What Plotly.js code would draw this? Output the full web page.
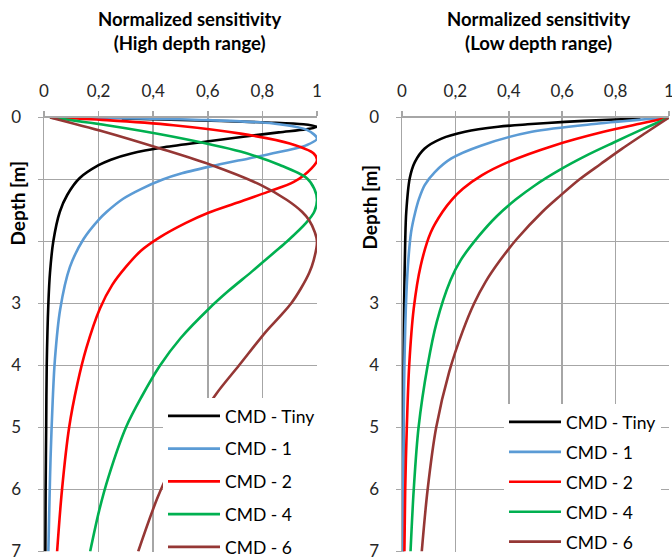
<!DOCTYPE html>
<html>
<head>
<meta charset="utf-8">
<script src="https://cdn.plot.ly/plotly-3.0.1.min.js"></script>
<style>html,body{margin:0;padding:0;background:#fff;}#chart{width:672px;height:558px;}</style>
</head>
<body>
<div id="chart"></div>
<script>
// ---------- data (depth in m, normalized sensitivity) ----------
const seriesNames = ["CMD - Tiny", "CMD - 1", "CMD - 2", "CMD - 4", "CMD - 6"];
const seriesColors = ["#000000", "#5B9BD5", "#FF0000", "#00B050", "#953735"];

// High depth range (left panel)
const highTinyDepth = [0.016, 0.04, 0.08, 0.11, 0.15, 0.19, 0.24, 0.31, 0.38, 0.48, 0.58, 0.68, 0.77, 0.98, 1.25, 1.52, 2.0, 2.5, 3.0, 4.0, 5.0, 6.0, 7.0];
const highTinySens  = [0.285, 0.5, 0.82, 0.95, 1.0, 0.96, 0.86, 0.73, 0.61, 0.44, 0.32, 0.245, 0.2, 0.13, 0.085, 0.058, 0.034, 0.022, 0.016, 0.01, 0.008, 0.006, 0.005];

const high1Depth = [0, 0.016, 0.043, 0.097, 0.2, 0.34, 0.45, 0.55, 0.66, 0.77, 0.9, 1.0, 1.15, 1.31, 1.52, 1.65, 1.96, 2.41, 3.1, 3.9, 4.55, 5.5, 6.2, 7.0];
const high1Sens  = [0.022, 0.35, 0.6, 0.84, 0.963, 1.0, 0.96, 0.87, 0.75, 0.63, 0.505, 0.435, 0.357, 0.29, 0.23, 0.2, 0.145, 0.095, 0.059, 0.04, 0.032, 0.024, 0.02, 0.016];

const high2Depth = [0, 0.043, 0.124, 0.26, 0.42, 0.58, 0.69, 0.82, 1.04, 1.2, 1.37, 1.54, 1.7, 1.93, 2.15, 2.41, 2.7, 3.08, 3.72, 4.3, 5.0, 6.0, 7.0];
const high2Sens  = [0.022, 0.23, 0.474, 0.72, 0.9, 0.988, 1.0, 0.98, 0.915, 0.82, 0.71, 0.6, 0.52, 0.425, 0.355, 0.3, 0.25, 0.205, 0.155, 0.122, 0.092, 0.066, 0.048];

const high4Depth = [0, 0.124, 0.31, 0.55, 0.77, 0.98, 1.15, 1.33, 1.52, 1.7, 2.0, 2.17, 2.49, 2.8, 3.08, 3.56, 4.0, 4.5, 5.0, 5.8, 6.34, 7.0];
const high4Sens  = [0.022, 0.23, 0.474, 0.72, 0.866, 0.963, 0.99, 1.0, 0.99, 0.96, 0.89, 0.845, 0.76, 0.675, 0.605, 0.5, 0.425, 0.358, 0.3, 0.236, 0.202, 0.169];

const high6Depth = [0, 0.23, 0.5, 0.77, 1.09, 1.33, 1.52, 1.65, 1.85, 2.0, 2.3, 2.5, 2.75, 3.0, 3.2, 3.45, 4.0, 4.45, 5.0, 5.5, 6.13, 7.0];
const high6Sens  = [0.022, 0.22, 0.425, 0.615, 0.795, 0.89, 0.945, 0.97, 0.992, 1.0, 0.988, 0.972, 0.942, 0.905, 0.866, 0.814, 0.714, 0.632, 0.55, 0.482, 0.416, 0.345];

// Low depth range (right panel)
const lowTinyDepth = [0.016, 0.04, 0.07, 0.11, 0.15, 0.23, 0.34, 0.5, 0.72, 0.98, 1.52, 2.0, 3.0, 4.0, 5.0, 6.0, 7.0];
const lowTinySens  = [0.893, 0.75, 0.61, 0.47, 0.36, 0.236, 0.148, 0.085, 0.048, 0.029, 0.016, 0.012, 0.008, 0.006, 0.005, 0.004, 0.004];

const low1Depth = [0, 0.097, 0.23, 0.45, 0.66, 0.88, 1.09, 1.32, 1.52, 1.85, 2.4, 3.0, 4.0, 5.0, 6.0, 7.0];
const low1Sens  = [0.994, 0.737, 0.486, 0.298, 0.185, 0.123, 0.085, 0.063, 0.05, 0.034, 0.022, 0.015, 0.009, 0.006, 0.004, 0.003];

const low2Depth = [0, 0.1, 0.23, 0.45, 0.72, 0.93, 1.15, 1.32, 1.52, 1.85, 2.39, 3.08, 4.0, 5.0, 6.0, 7.0];
const low2Sens  = [1.0, 0.89, 0.755, 0.57, 0.397, 0.3, 0.228, 0.188, 0.152, 0.108, 0.07, 0.044, 0.027, 0.018, 0.012, 0.009];

const low4Depth = [0, 0.2, 0.4, 0.6, 0.85, 1.1, 1.32, 1.6, 1.91, 2.3, 2.62, 3.3, 4.0, 5.0, 6.0, 7.0];
const low4Sens  = [1.0, 0.895, 0.795, 0.697, 0.589, 0.496, 0.427, 0.353, 0.288, 0.22, 0.182, 0.13, 0.096, 0.062, 0.044, 0.032];

const low6Depth = [0, 0.25, 0.51, 0.75, 1.0, 1.26, 1.52, 1.96, 2.3, 2.65, 3.0, 3.45, 4.1, 5.0, 6.0, 7.0];
const low6Sens  = [1.0, 0.912, 0.822, 0.744, 0.664, 0.593, 0.526, 0.43, 0.368, 0.313, 0.27, 0.227, 0.177, 0.128, 0.096, 0.074];

const depthTicks = [0, 1, 2, 3, 4, 5, 6, 7];
const panelTitles = ["Normalized sensitivity<br>(High depth range)", "Normalized sensitivity<br>(Low depth range)"];
const depthTitle = "Depth [m]";

// ---------- build ----------
const FONT = "Lato, 'Open Sans', sans-serif";
const highDepths = [highTinyDepth, high1Depth, high2Depth, high4Depth, high6Depth];
const highSens = [highTinySens, high1Sens, high2Sens, high4Sens, high6Sens];
const lowDepths = [lowTinyDepth, low1Depth, low2Depth, low4Depth, low6Depth];
const lowSens = [lowTinySens, low1Sens, low2Sens, low4Sens, low6Sens];

const traces = [];
seriesNames.forEach((n, i) => {
  traces.push({
    x: highSens[i], y: highDepths[i], name: n, type: 'scatter', mode: 'lines',
    xaxis: 'x', yaxis: 'y', legend: 'legend', legendgroup: 'h' + i,
    line: {color: seriesColors[i], width: 2.6, shape: 'spline', smoothing: 0.9}
  });
});
seriesNames.forEach((n, i) => {
  traces.push({
    x: lowSens[i], y: lowDepths[i], name: n, type: 'scatter', mode: 'lines',
    xaxis: 'x2', yaxis: 'y2', legend: 'legend2', legendgroup: 'l' + i,
    line: {color: seriesColors[i], width: 2.6, shape: 'spline', smoothing: 0.9}
  });
});

const W = 672, H = 558;
const px = v => v / W;
const py = v => 1 - v / H;
const GRID = '#a6a6a6';
const tickFont = {family: FONT, size: 17, color: '#262626'};

function xAxis(domain, anchor) {
  return {
    domain: domain, anchor: anchor, side: 'top', range: [0, 1], dtick: 0.2, tick0: 0,
    showgrid: true, gridcolor: GRID, gridwidth: 1.5, zeroline: false,
    showline: true, linecolor: GRID, linewidth: 1.5, mirror: false,
    ticks: 'outside', ticklen: 5, tickcolor: GRID, tickwidth: 1.5,
    ticklabelstandoff: 7, tickfont: tickFont, ticklabeloverflow: 'allow', fixedrange: true
  };
}
function yAxis(domain, anchor) {
  return {
    domain: domain, anchor: anchor, range: [7, 0], tickvals: depthTicks,
    showgrid: true, gridcolor: GRID, gridwidth: 1.5, zeroline: false,
    showline: true, linecolor: GRID, linewidth: 1.5,
    ticks: 'outside', ticklen: 5, tickcolor: GRID, tickwidth: 1.5,
    ticklabelstandoff: 13, tickfont: tickFont, ticklabeloverflow: 'allow', fixedrange: true
  };
}

const yDom = [py(551.5), py(117.5)];
const legendCommon = {
  bgcolor: '#ffffff', borderwidth: 0, xanchor: 'left', yanchor: 'top',
  font: {family: FONT, size: 17.5, color: '#000000'}, itemwidth: 52,
  traceorder: 'grouped', valign: 'middle'
};

const layout = {
  width: W, height: H, autosize: false,
  margin: {l: 0, r: 0, t: 0, b: 0, pad: 0, autoexpand: false},
  paper_bgcolor: '#ffffff', plot_bgcolor: '#ffffff',
  separators: ', ',
  font: {family: FONT, color: '#000000'},
  xaxis: xAxis([px(44), px(317)], 'y'),
  yaxis: yAxis(yDom, 'x'),
  xaxis2: xAxis([px(402), px(669)], 'y2'),
  yaxis2: yAxis(yDom, 'x2'),
  showlegend: true,
  legend: Object.assign({}, legendCommon, {x: px(163), y: py(398), tracegroupgap: 7}),
  legend2: Object.assign({}, legendCommon, {x: px(504), y: py(404), tracegroupgap: 4.2}),
  annotations: [
    {text: '<b>' + panelTitles[0] + '</b>', xref: 'paper', yref: 'paper', x: px(189), y: py(31),
     xanchor: 'center', yanchor: 'middle', showarrow: false, font: {family: FONT, size: 18.5, color: '#000'}},
    {text: '<b>' + panelTitles[1] + '</b>', xref: 'paper', yref: 'paper', x: px(538.5), y: py(31),
     xanchor: 'center', yanchor: 'middle', showarrow: false, font: {family: FONT, size: 18.5, color: '#000'}},
    {text: '<b>' + depthTitle + '</b>', xref: 'paper', yref: 'paper', x: px(16.5), y: py(204),
     xanchor: 'center', yanchor: 'middle', textangle: -90, showarrow: false, bgcolor: '#ffffff', borderpad: 3,
     font: {family: FONT, size: 19, color: '#000'}},
    {text: '<b>' + depthTitle + '</b>', xref: 'paper', yref: 'paper', x: px(369.5), y: py(208),
     xanchor: 'center', yanchor: 'middle', textangle: -90, showarrow: false, bgcolor: '#ffffff', borderpad: 3,
     font: {family: FONT, size: 19, color: '#000'}}
  ]
};

Plotly.newPlot('chart', traces, layout, {displayModeBar: false, staticPlot: true});
</script>
</body>
</html>
